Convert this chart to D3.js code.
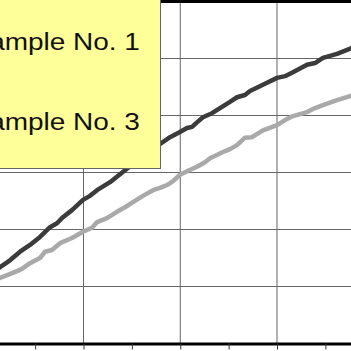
<!DOCTYPE html>
<html>
  <head>
      <title>Sample curves</title>
      <script src="https://d3js.org/d3.v7.min.js"></script>
      <style type="text/css">
        body {
            margin: 0;
            background: #ffffff;
        }
        .grid line {
            stroke: #666666;
            stroke-width: 1px;
        }
        .legend text {
            font-family: "Liberation Sans", Arial, sans-serif;
            font-size: 23.5px;
            fill: #111111;
        }
      </style>
  </head>
  <body>
    <script>
        // Sample No. 1 (dark curve)
        var time1 = [0.85, 1.37, 2.40, 3.44, 4.47, 5.50, 6.54, 7.26, 7.78, 8.81, 9.95, 10.67, 11.40,
                     12.74, 14.29, 16.36, 17.92, 18.94, 19.97, 20.70, 21.22, 21.73, 22.35, 23.28,
                     24.11, 25.14, 25.87, 26.69, 27.21, 28.55, 30.00, 30.83, 31.65, 33.10, 33.93,
                     34.75, 36.20, 37.65, 38.17];
        var sample1 = [1.27, 1.34, 1.46, 1.61, 1.73, 1.87, 2.04, 2.11, 2.20, 2.34, 2.52, 2.59, 2.69,
                       2.83, 3.04, 3.31, 3.50, 3.62, 3.71, 3.78, 3.80, 3.88, 3.97, 4.04,
                       4.13, 4.24, 4.32, 4.36, 4.43, 4.54, 4.66, 4.69, 4.76, 4.89, 4.92,
                       5.01, 5.08, 5.18, 5.22];

        // Sample No. 3 (light curve)
        var time3 = [0.85, 1.37, 2.71, 3.64, 4.47, 5.50, 6.02, 6.74, 7.57, 8.81, 9.95, 10.88, 11.40,
                     12.43, 13.46, 14.29, 15.12, 16.15, 17.19, 17.91, 18.63, 19.25, 19.97, 20.80,
                     21.73, 22.56, 23.07, 24.42, 25.14, 25.87, 26.69, 27.42, 28.55, 30.00, 30.83,
                     31.65, 33.10, 33.93, 34.75, 36.20, 37.54, 38.17];
        var sample3 = [1.11, 1.15, 1.24, 1.31, 1.41, 1.50, 1.61, 1.64, 1.76, 1.85, 1.96, 2.03, 2.13,
                       2.20, 2.31, 2.39, 2.48, 2.59, 2.69, 2.73, 2.78, 2.85, 2.96, 3.03,
                       3.10, 3.18, 3.25, 3.36, 3.41, 3.48, 3.61, 3.62, 3.74, 3.83, 3.92,
                       3.99, 4.06, 4.13, 4.18, 4.27, 4.34, 4.38];

        var xGrid = [10, 20, 30];
        var xTicks = [0, 5, 10, 15, 20, 25, 30, 35, 40];
        var yGrid = [1, 2, 3, 4, 5];
        var legendLabels = ["Sample No. 1", "Sample No. 3"];

        var svgWidth = 351;
        var svgHeight = 351;

        var svg = d3.select("body")
                    .append("svg")
                    .attr("width", svgWidth)
                    .attr("height", svgHeight);

        // Scales (the plot area runs past the visible window)
        var xScale = d3.scaleLinear()
                       .domain([0, 40])
                       .range([-13.25, 373.75]);

        var yScale = d3.scaleLinear()
                       .domain([0, 6])
                       .range([343.5, 1.5]);

        drawGrid();
        drawCurve(time1, sample1, "#3b3b3b");
        drawCurve(time3, sample3, "#a9a9a9");
        drawFrame();
        drawLegend();

        function drawGrid() {
            var grid = svg.append("g").attr("class", "grid");

            grid.selectAll(".hgrid")
                .data(yGrid)
                .enter()
                .append("line")
                .attr("class", "hgrid")
                .attr("x1", xScale(0))
                .attr("x2", xScale(40))
                .attr("y1", function(d) { return yScale(d); })
                .attr("y2", function(d) { return yScale(d); });

            grid.selectAll(".vgrid")
                .data(xGrid)
                .enter()
                .append("line")
                .attr("class", "vgrid")
                .attr("x1", function(d) { return xScale(d); })
                .attr("x2", function(d) { return xScale(d); })
                .attr("y1", yScale(6))
                .attr("y2", yScale(0));
        }

        function drawCurve(times, values, colour) {
            var points = times.map(function(t, i) { return [t, values[i]]; });

            var line = d3.line()
                         .x(function(d) { return xScale(d[0]); })
                         .y(function(d) { return yScale(d[1]); });

            svg.append("path")
               .datum(points)
               .attr("d", line)
               .attr("fill", "none")
               .attr("stroke", colour)
               .attr("stroke-width", 4.5)
               .attr("stroke-linejoin", "round");
        }

        function drawFrame() {
            // Bottom axis with small ticks
            var xAxis = d3.axisBottom(xScale)
                          .tickValues(xTicks)
                          .tickSize(6)
                          .tickSizeOuter(0)
                          .tickFormat("");

            var axis = svg.append("g")
                          .attr("transform", "translate(0," + yScale(0) + ")")
                          .call(xAxis);

            axis.select(".domain")
                .attr("stroke", "#000")
                .attr("stroke-width", 3);

            axis.selectAll(".tick line")
                .attr("stroke", "#333");

            // Top border
            svg.append("line")
               .attr("x1", xScale(0))
               .attr("x2", xScale(40))
               .attr("y1", yScale(6))
               .attr("y2", yScale(6))
               .attr("stroke", "#000")
               .attr("stroke-width", 3);
        }

        function drawLegend() {
            var legend = svg.append("g").attr("class", "legend");

            legend.append("rect")
                  .attr("x", -40)
                  .attr("y", -10)
                  .attr("width", 200.5)
                  .attr("height", 178.5)
                  .attr("fill", "#ffff99")
                  .attr("stroke", "#666")
                  .attr("stroke-width", 1);

            legend.selectAll("text")
                  .data(legendLabels)
                  .enter()
                  .append("text")
                  .attr("transform", function(d, i) {
                      return "translate(-29.5," + (49.5 + i * 80.5) + ") scale(1.19,1)";
                  })
                  .text(function(d) { return d; });
        }
    </script>
  </body>
</html>
